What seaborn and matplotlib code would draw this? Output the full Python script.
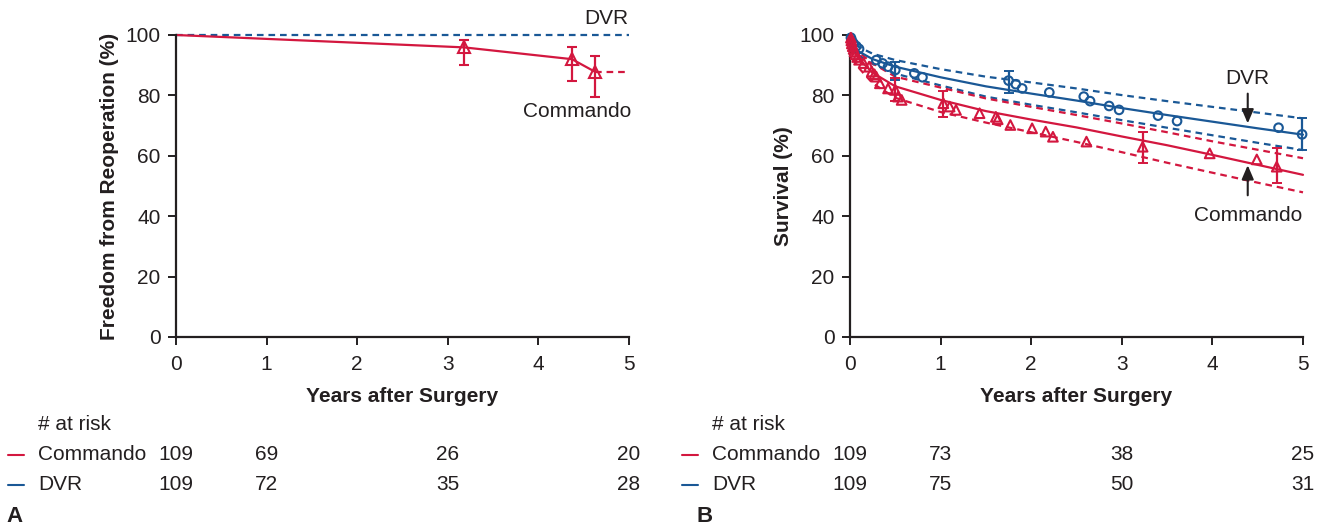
import numpy as np
import pandas as pd
import matplotlib
matplotlib.use("Agg")
import matplotlib.pyplot as plt
import seaborn as sns

RED = "#d3173f"
BLUE = "#1a5896"
TXT = "#231f20"

# Panel A: freedom from reoperation (Commando events, DVR none)
a_cmd_years = [0, 3.18, 4.37, 4.62]
a_cmd_vals = [100, 95.9, 92.0, 87.9]
a_cmd_lo = [None, 90.2, 84.7, 79.6]
a_cmd_hi = [None, 98.3, 95.9, 93.1]
a_cmd_tail_years = [4.62, 5.0]
a_cmd_tail_vals = [87.9, 87.9]
a_dvr_years = [0, 5]
a_dvr_vals = [100, 100]

# Panel B: survival, parametric fits (solid) with confidence bands (dashed)
fit_years = [0, 0.02, 0.05, 0.1, 0.25, 0.5, 1, 1.5, 2, 2.5, 3, 3.5, 4, 4.5, 5]
dvr_fit = [100, 97.5, 96.0, 94.5, 92.0, 89.5, 86.0, 83.0, 80.6, 78.3, 75.8, 73.5, 71.3, 69.1, 67.0]
dvr_upper = [100, 98.5, 97.2, 96.0, 93.8, 91.7, 88.7, 86.2, 84.3, 82.3, 80.1, 78.1, 76.2, 74.3, 72.4]
dvr_lower = [100, 96.8, 95.0, 93.2, 90.4, 87.2, 83.3, 79.6, 76.9, 74.4, 71.8, 69.3, 66.8, 64.3, 61.9]
cmd_fit = [100, 97.0, 94.5, 92.0, 87.5, 83.0, 78.5, 74.8, 72.0, 69.4, 66.4, 63.5, 60.3, 57.0, 53.7]
cmd_upper = [100, 98.0, 96.2, 94.2, 90.6, 86.2, 82.6, 79.0, 76.2, 73.5, 70.7, 67.8, 64.8, 62.0, 59.2]
cmd_lower = [100, 95.5, 92.0, 89.0, 84.0, 79.2, 74.5, 71.0, 67.8, 64.6, 61.2, 57.7, 54.4, 51.1, 47.9]

# Panel B: Kaplan-Meier estimates (open symbols)
b_dvr_years = [0.01, 0.02, 0.04, 0.07, 0.1, 0.29, 0.36, 0.42, 0.50, 0.71, 0.80, 1.75, 1.83, 1.90,
               2.20, 2.58, 2.65, 2.86, 2.97, 3.40, 3.61, 4.73, 4.99]
b_dvr_vals = [99.1, 98.2, 97.2, 96.3, 95.4, 91.7, 90.6, 89.5, 88.4, 87.3, 86.0, 84.9, 83.7, 82.3,
              81.0, 79.6, 78.1, 76.5, 75.2, 73.3, 71.5, 69.3, 67.1]
b_cmd_years = [0.01, 0.015, 0.02, 0.03, 0.04, 0.05, 0.06, 0.08, 0.1, 0.15, 0.21, 0.24, 0.27, 0.29,
               0.33, 0.42, 0.50, 0.53, 0.57, 1.03, 1.10, 1.17, 1.43, 1.61, 1.63, 1.77, 2.01, 2.16,
               2.24, 2.61, 3.23, 3.97, 4.49, 4.71]
b_cmd_vals = [99.1, 98.2, 97.2, 96.3, 95.4, 94.5, 93.6, 92.7, 91.8, 90.7, 89.5, 87.9, 87.0, 86.2,
              84.0, 82.3, 81.8, 79.6, 78.5, 77.4, 76.3, 75.2, 74.1, 72.9, 72.1, 70.2, 69.1, 68.0,
              66.3, 64.7, 63.0, 60.8, 58.8, 56.4]
b_dvr_err_years = [0.50, 1.75, 4.99]
b_dvr_err_vals = [88.4, 84.9, 67.1]
b_dvr_err_lo = [85.1, 80.9, 61.9]
b_dvr_err_hi = [91.2, 88.2, 72.4]
b_cmd_err_years = [0.50, 1.03, 3.23, 4.71]
b_cmd_err_vals = [81.8, 77.4, 63.0, 56.4]
b_cmd_err_lo = [78.0, 72.9, 57.7, 51.1]
b_cmd_err_hi = [85.6, 81.6, 68.0, 62.5]

# numbers at risk at years 0, 1, 3, 5
risk_years = [0, 1, 3, 5]
a_risk_cmd = [109, 69, 26, 20]
a_risk_dvr = [109, 72, 35, 28]
b_risk_cmd = [109, 73, 38, 25]
b_risk_dvr = [109, 75, 50, 31]

sns.set_theme(style="ticks")
plt.rcParams['font.family'] = ['Liberation Sans', 'DejaVu Sans']
plt.rcParams['text.color'] = TXT
plt.rcParams['axes.labelcolor'] = TXT
plt.rcParams['xtick.color'] = TXT
plt.rcParams['ytick.color'] = TXT

FS = 15
W, H = 1327, 528
fig = plt.figure(figsize=(W / 100, H / 100), dpi=100)


def px_axes(left, top, right, bottom):
    return fig.add_axes([left / W, 1 - bottom / H, (right - left) / W, (bottom - top) / H])


axA = px_axes(176, 35, 629, 337)
axB = px_axes(850, 35, 1303, 337)

DASH = (3, 2.2)


def style_axis(ax, ylabel):
    ax.set_xlim(0, 5)
    ax.set_ylim(0, 100)
    ax.set_xticks(range(6))
    ax.set_yticks(range(0, 101, 20))
    sns.despine(ax=ax)
    for s in ["left", "bottom"]:
        ax.spines[s].set_linewidth(1.6)
        ax.spines[s].set_color(TXT)
    ax.tick_params(length=6, width=1.4, labelsize=FS, pad=5)
    ax.tick_params(axis="x", pad=7)
    ax.set_xlabel("Years after Surgery", fontsize=FS, fontweight="bold", labelpad=9)
    ax.set_ylabel(ylabel, fontsize=FS, fontweight="bold", labelpad=5)


# ---- Panel A ----
sns.lineplot(x=a_dvr_years, y=a_dvr_vals, ax=axA, color=BLUE, lw=1.6,
             linestyle=(0, DASH), clip_on=False)
sns.lineplot(x=a_cmd_years, y=a_cmd_vals, ax=axA, color=RED, lw=1.6, clip_on=False)
sns.lineplot(x=a_cmd_tail_years, y=a_cmd_tail_vals, ax=axA, color=RED, lw=1.6,
             linestyle=(0, DASH))
ex = a_cmd_years[1:]
ey = np.array(a_cmd_vals[1:])
lo = ey - np.array(a_cmd_lo[1:])
hi = np.array(a_cmd_hi[1:]) - ey
axA.errorbar(ex, ey, yerr=[lo, hi], fmt="^", ms=8, mfc="none", mec=RED, mew=1.5,
             ecolor=RED, elinewidth=1.6, capsize=3.5, capthick=1.4)
style_axis(axA, "Freedom from Reoperation (%)")
axA.text(4.75, 105.5, "DVR", fontsize=FS, ha="center", va="center", clip_on=False)
axA.text(4.43, 74.6, "Commando", fontsize=FS, ha="center", va="center")

# ---- Panel B ----
for vals, col, ls in [(dvr_upper, BLUE, (0, DASH)), (dvr_lower, BLUE, (0, DASH)),
                      (cmd_upper, RED, (0, DASH)), (cmd_lower, RED, (0, DASH)),
                      (dvr_fit, BLUE, "-"), (cmd_fit, RED, "-")]:
    sns.lineplot(x=fit_years, y=vals, ax=axB, color=col, lw=1.6, linestyle=ls, clip_on=False)

sns.scatterplot(x=b_dvr_years, y=b_dvr_vals, ax=axB, marker="o", s=38, facecolors="none",
                edgecolor=BLUE, linewidth=1.5, clip_on=False, zorder=3)
sns.scatterplot(x=b_cmd_years, y=b_cmd_vals, ax=axB, marker="^", s=48, facecolors="none",
                edgecolor=RED, linewidth=1.5, clip_on=False, zorder=3)
for xs, ys, los, his, col in [(b_dvr_err_years, b_dvr_err_vals, b_dvr_err_lo, b_dvr_err_hi, BLUE),
                              (b_cmd_err_years, b_cmd_err_vals, b_cmd_err_lo, b_cmd_err_hi, RED)]:
    ys = np.array(ys)
    axB.errorbar(xs, ys, yerr=[ys - np.array(los), np.array(his) - ys], fmt="none",
                 ecolor=col, elinewidth=1.6, capsize=3.5, capthick=1.4, clip_on=False)
style_axis(axB, "Survival (%)")

axB.text(4.39, 85.5, "DVR", fontsize=FS, ha="center", va="center")
axB.annotate("", xy=(4.39, 69.8), xytext=(4.39, 81.5),
             arrowprops=dict(arrowstyle="-|>,head_width=0.3,head_length=0.7", color=TXT, lw=1.5))
axB.text(4.39, 40.3, "Commando", fontsize=FS, ha="center", va="center")
axB.annotate("", xy=(4.39, 57.8), xytext=(4.39, 46.0),
             arrowprops=dict(arrowstyle="-|>,head_width=0.3,head_length=0.7", color=TXT, lw=1.5))


# ---- numbers at risk ----
def risk_table(ax, x0, cmd, dvr, letter, letter_x):
    ft = fig.transFigure
    fig.text((x0 + 30) / W, 1 - 425 / H, "# at risk", fontsize=FS, va="center", ha="left")
    for row_y, name, col, nums in [(455, "Commando", RED, cmd), (485, "DVR", BLUE, dvr)]:
        fig.add_artist(plt.Line2D([x0 / W, (x0 + 16) / W], [1 - row_y / H, 1 - row_y / H],
                                  color=col, lw=1.5, transform=ft))
        fig.text((x0 + 30) / W, 1 - row_y / H, name, fontsize=FS, va="center", ha="left")
        tr = ax.get_xaxis_transform()
        for yr, n in zip(risk_years, nums):
            ax.text(yr, (337 - row_y) / 302, str(n), fontsize=FS, va="center",
                    ha="center", transform=tr, clip_on=False)
    fig.text(letter_x / W, 1 - 516 / H, letter, fontsize=16, fontweight="bold",
             va="center", ha="left")


risk_table(axA, 8, a_risk_cmd, a_risk_dvr, "A", 6)
risk_table(axB, 682, b_risk_cmd, b_risk_dvr, "B", 697)

fig.savefig("out.png", dpi=100, facecolor="white")
